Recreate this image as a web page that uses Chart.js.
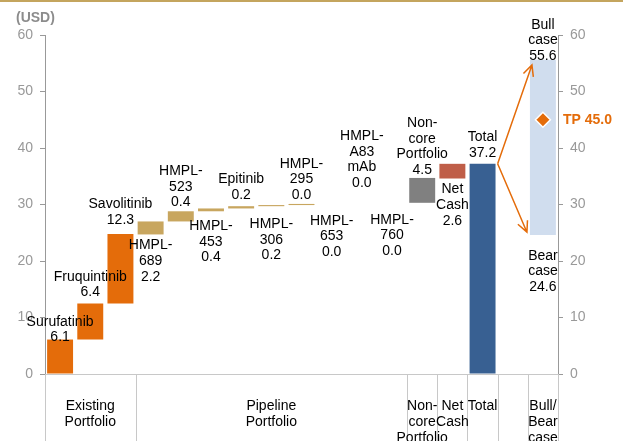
<!DOCTYPE html>
<html lang="en">
  <head>
    <meta charset="UTF-8" />
    <meta name="viewport" content="width=device-width, initial-scale=1.0" />
    <title>SOTP valuation waterfall</title>
    <script src="https://cdn.jsdelivr.net/npm/chart.js"></script>
    <style>
      body {
        margin: 0;
        background-color: #ffffff;
      }
      .graph {
        position: relative;
        width: 623px;
        height: 441px;
      }
    </style>
  </head>
  <body>
    <div class="graph">
      <canvas id="sotpChart"></canvas>
    </div>
    <script>
      // one slot per column of the waterfall
      const categories = [
        "Surufatinib", "Fruquintinib", "Savolitinib", "HMPL-689", "HMPL-523",
        "HMPL-453", "Epitinib", "HMPL-306", "HMPL-295", "HMPL-653",
        "HMPL-A83 mAb", "HMPL-760", "Non-core Portfolio", "Net Cash", "Total",
        "", "Bull/Bear case"
      ];
      // floating bar ends (USD)
      const barLows = [0, 6.1, 12.5, 24.7, 27.0, 28.8, 29.3, 29.7, 29.9, 30.1, 30.1, 30.1, 30.3, 34.6, 0, null, 24.6];
      const barHighs = [6.1, 12.5, 24.8, 27.0, 28.8, 29.3, 29.7, 29.9, 30.1, 30.1, 30.1, 30.1, 34.7, 37.2, 37.2, null, 55.6];
      // numbers printed on the chart
      const shownValues = [6.1, 6.4, 12.3, 2.2, 0.4, 0.4, 0.2, 0.2, 0.0, 0.0, 0.0, 0.0, 4.5, 2.6, 37.2, null, 55.6];
      const bearValue = 24.6;
      const targetPrice = 45.0;
      const arrowTargets = [54.7, 25.1];
      const yTicks = [0, 10, 20, 30, 40, 50, 60];

      // bottom group boxes
      const groupNames = [
        ["Existing", "Portfolio"], ["Pipeline", "Portfolio"], ["Non-", "core", "Portfolio"],
        ["Net", "Cash"], ["Total"], [], ["Bull/", "Bear", "case"]
      ];
      const groupSpans = [3, 9, 1, 1, 1, 1, 1];

      // label text lines, side and gap to the bar edge (px)
      const labelNames = [
        ["Surufatinib"], ["Fruquintinib"], ["Savolitinib"], ["HMPL-", "689"], ["HMPL-", "523"],
        ["HMPL-", "453"], ["Epitinib"], ["HMPL-", "306"], ["HMPL-", "295"], ["HMPL-", "653"],
        ["HMPL-", "A83", "mAb"], ["HMPL-", "760"], ["Non-", "core", "Portfolio"], ["Net", "Cash"],
        ["Total"], [], ["Bull", "case"]
      ];
      const labelSide = ["above", "above", "above", "below", "above", "below", "above", "below",
        "above", "below", "above", "below", "above", "below", "above", null, "above"];
      const labelGap = [2, 11, 14, 11, 9, 15, 11, 18, 9, 17, 21, 16, 8, 11, 11, 0, 4];

      const ORANGE = "#e46c0a";
      const TAN = "#c8a65f";
      const barColors = [ORANGE, ORANGE, ORANGE, TAN, TAN, TAN, TAN, TAN, TAN, TAN, TAN, TAN,
        "#808080", "#bf5e48", "#386092", "#ffffff", "#d0ddee"];

      const FONT = "Arial, 'Liberation Sans', sans-serif";
      const LINE_H = 15.6;
      const BAR_PCT = 0.86;

      const annotate = {
        id: "annotate",
        beforeDraw(chart) {
          const ctx = chart.ctx;
          ctx.save();
          ctx.fillStyle = "#c4a55e";
          ctx.fillRect(0, 0, chart.width, 2);
          ctx.fillStyle = "#8c8c8c";
          ctx.font = "bold 14px " + FONT;
          ctx.textAlign = "left";
          ctx.textBaseline = "middle";
          ctx.fillText("(USD)", 16, 18);
          ctx.restore();
        },
        afterDatasetsDraw(chart) {
          const ctx = chart.ctx;
          const area = chart.chartArea;
          const x = chart.scales.x;
          const y = chart.scales.y;
          const step = x.getPixelForValue(1) - x.getPixelForValue(0);
          const barW = step * BAR_PCT;
          ctx.save();

          // value labels
          ctx.fillStyle = "#000000";
          ctx.font = "14px " + FONT;
          ctx.textAlign = "center";
          ctx.textBaseline = "middle";
          const drawBlock = (lines, cx, edge, side, gap) => {
            const first = side === "above" ? edge - gap - (lines.length - 1) * LINE_H : edge + gap;
            lines.forEach((t, k) => ctx.fillText(t, cx, first + k * LINE_H));
          };
          categories.forEach((c, i) => {
            if (!labelSide[i]) return;
            const lines = labelNames[i].concat([shownValues[i].toFixed(1)]);
            const edge = labelSide[i] === "above" ? y.getPixelForValue(barHighs[i]) : y.getPixelForValue(barLows[i]);
            drawBlock(lines, x.getPixelForValue(i), edge, labelSide[i], labelGap[i]);
          });
          drawBlock(["Bear", "case", bearValue.toFixed(1)], x.getPixelForValue(16),
            y.getPixelForValue(bearValue), "below", 21);

          // arrows from total to bull / bear
          const sx = x.getPixelForValue(14) + step / 2;
          const sy = y.getPixelForValue(barHighs[14]);
          const ex = x.getPixelForValue(16) - barW / 2;
          ctx.strokeStyle = ORANGE;
          ctx.lineWidth = 1.5;
          [[ex + 2, arrowTargets[0]], [ex - 3, arrowTargets[1]]].forEach(([tx, v]) => {
            const ty = y.getPixelForValue(v);
            const ang = Math.atan2(ty - sy, tx - sx);
            ctx.beginPath();
            ctx.moveTo(sx, sy);
            ctx.lineTo(tx, ty);
            ctx.moveTo(tx - 12 * Math.cos(ang - 0.45), ty - 12 * Math.sin(ang - 0.45));
            ctx.lineTo(tx, ty);
            ctx.lineTo(tx - 12 * Math.cos(ang + 0.45), ty - 12 * Math.sin(ang + 0.45));
            ctx.stroke();
          });

          // target price label
          ctx.fillStyle = ORANGE;
          ctx.font = "bold 14px " + FONT;
          ctx.textAlign = "left";
          ctx.fillText("TP " + targetPrice.toFixed(1), area.right + 5, y.getPixelForValue(targetPrice));

          // group boxes under the axis
          ctx.strokeStyle = "#c8c8c8";
          ctx.lineWidth = 1;
          let k = 0;
          const edges = [0];
          groupSpans.forEach((s) => { k += s; edges.push(k); });
          edges.forEach((e) => {
            const px = Math.round(x.getPixelForValue(e) - step / 2) + 0.5;
            ctx.beginPath();
            ctx.moveTo(px, area.bottom);
            ctx.lineTo(px, chart.height);
            ctx.stroke();
          });
          ctx.fillStyle = "#000000";
          ctx.font = "14px " + FONT;
          ctx.textAlign = "center";
          groupNames.forEach((lines, g) => {
            const cx = (x.getPixelForValue(edges[g]) + x.getPixelForValue(edges[g + 1])) / 2 - step / 2;
            lines.forEach((t, j) => ctx.fillText(t, cx, area.bottom + 32 + j * 16));
          });
          ctx.restore();
        }
      };

      const ctx = document.getElementById("sotpChart").getContext("2d");
      const sideAxis = (position, width) => ({
        position: position,
        min: 0,
        max: 60,
        afterBuildTicks: (scale) => { scale.ticks = yTicks.map((v) => ({ value: v })); },
        afterFit: (scale) => { scale.width = width; },
        ticks: { color: "#999999", font: { family: FONT, size: 14 }, padding: 7 },
        grid: { drawOnChartArea: false, tickLength: 5, color: "#999999" },
        border: { color: "#999999" }
      });

      new Chart(ctx, {
        type: "bar",
        data: {
          labels: categories,
          datasets: [
            {
              label: "Value",
              data: categories.map((c, i) => (barLows[i] === null ? null : [barLows[i], barHighs[i]])),
              backgroundColor: barColors,
              borderWidth: 0,
              categoryPercentage: 1,
              barPercentage: BAR_PCT,
              yAxisID: "y",
              order: 2
            },
            {
              type: "line",
              label: "Target price",
              data: categories.map((c, i) => (i === 16 ? targetPrice : null)),
              showLine: false,
              pointStyle: "rectRot",
              pointRadius: 7.5,
              pointBackgroundColor: ORANGE,
              pointBorderColor: "#ffffff",
              pointBorderWidth: 1.5,
              yAxisID: "y",
              order: 1
            }
          ]
        },
        options: {
          responsive: true,
          maintainAspectRatio: false,
          animation: false,
          layout: { padding: { top: 35, left: 0, right: 0, bottom: 0 } },
          plugins: {
            legend: { display: false },
            tooltip: { enabled: false }
          },
          scales: {
            x: {
              afterFit: (scale) => { scale.height = 67; },
              ticks: { display: false },
              grid: { drawOnChartArea: false, drawTicks: false },
              border: { color: "#c8c8c8" }
            },
            y: sideAxis("left", 45),
            y2: sideAxis("right", 65)
          }
        },
        plugins: [annotate]
      });
    </script>
  </body>
</html>
